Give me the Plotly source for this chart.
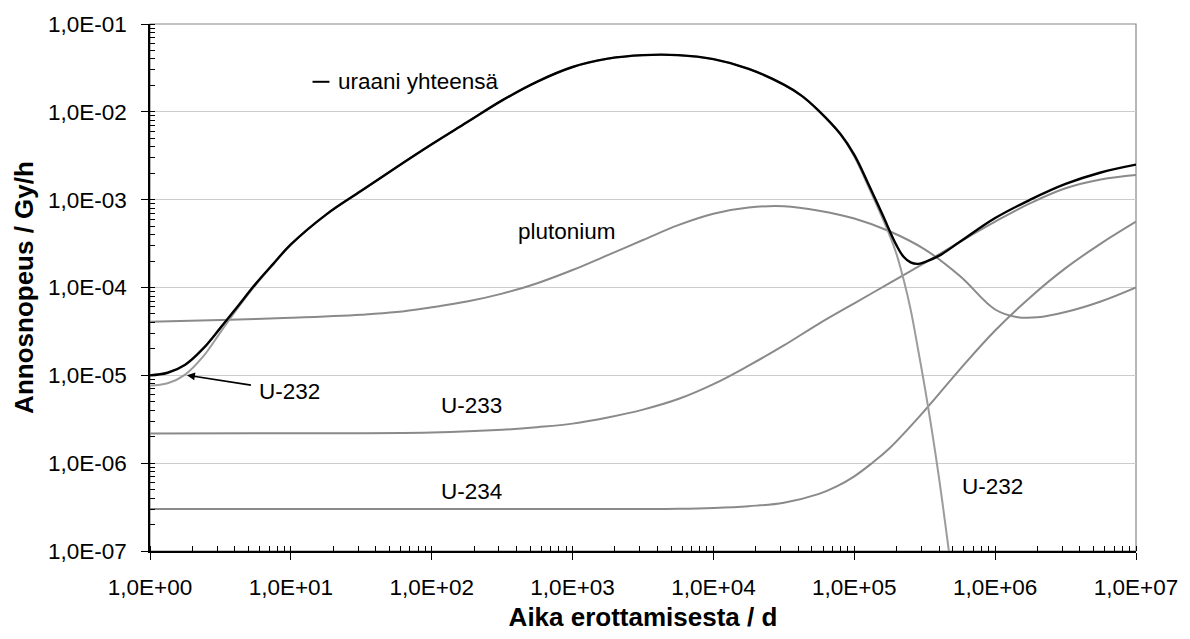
import plotly.graph_objects as go

# --- Dose rate from separated uranium / plutonium vs. time (log-log) ---

# Total uranium dose rate (Gy/h)
t_total = [1, 1.334, 1.778, 2.371, 3.162, 4.217, 5.623, 7.499, 10, 17.78, 31.62, 56.23,
           100, 177.8, 316.2, 562.3, 1e3, 1778, 3162, 5623, 1e4, 1.778e4, 3.162e4, 4.217e4,
           5.623e4, 7.943e4, 1e5, 1.259e5, 1.585e5, 1.995e5, 2.239e5, 2.512e5, 2.818e5,
           3.162e5, 3.981e5, 5.623e5, 1e6, 1.778e6, 3.162e6, 5.623e6, 1e7]
d_total = [1.00e-5, 1.07e-5, 1.32e-5, 2.00e-5, 3.47e-5, 6.17e-5, 1.10e-4, 1.86e-4, 3.09e-4,
           6.76e-4, 1.26e-3, 2.34e-3, 4.27e-3, 7.59e-3, 1.35e-2, 2.21e-2, 3.24e-2, 4.03e-2,
           4.42e-2, 4.42e-2, 3.98e-2, 3.09e-2, 2.04e-2, 1.53e-2, 1.02e-2, 5.62e-3, 3.24e-3,
           1.51e-3, 6.76e-4, 3.02e-4, 2.24e-4, 1.93e-4, 1.86e-4, 1.95e-4, 2.29e-4, 3.31e-4,
           6.17e-4, 1.00e-3, 1.51e-3, 2.04e-3, 2.51e-3]

# U-232
t_u232 = [1, 1.334, 1.778, 2.371, 3.162, 4.217, 5.623, 7.499, 10, 17.78, 31.62, 56.23,
          100, 177.8, 316.2, 562.3, 1e3, 1778, 3162, 5623, 1e4, 1.778e4, 3.162e4, 4.217e4,
          5.623e4, 7.943e4, 1e5, 1.259e5, 1.585e5, 1.778e5, 1.995e5, 2.239e5, 2.512e5,
          2.818e5, 3.162e5, 3.548e5, 3.981e5, 4.467e5, 5.012e5]
d_u232 = [7.67e-6, 8.13e-6, 1.02e-5, 1.62e-5, 3.09e-5, 5.89e-5, 1.07e-4, 1.84e-4, 3.07e-4,
          6.74e-4, 1.26e-3, 2.34e-3, 4.27e-3, 7.59e-3, 1.35e-2, 2.21e-2, 3.24e-2, 4.03e-2,
          4.42e-2, 4.42e-2, 3.98e-2, 3.09e-2, 2.04e-2, 1.53e-2, 1.02e-2, 5.60e-3, 3.09e-3,
          1.41e-3, 6.17e-4, 3.98e-4, 2.40e-4, 1.23e-4, 5.62e-5, 2.09e-5, 7.41e-6, 2.40e-6,
          7.08e-7, 1.82e-7, 4.47e-8]

# U-233
t_u233 = [1, 10, 100, 316.2, 562.3, 1e3, 1778, 3162, 5623, 1e4, 1.778e4, 3.162e4, 5.623e4,
          1e5, 1.778e5, 3.162e5, 5.623e5, 1e6, 1.778e6, 3.162e6, 5.623e6, 1e7]
d_u233 = [2.18e-6, 2.19e-6, 2.24e-6, 2.40e-6, 2.57e-6, 2.82e-6, 3.31e-6, 4.07e-6, 5.37e-6,
          7.94e-6, 1.29e-5, 2.19e-5, 3.89e-5, 6.61e-5, 1.12e-4, 1.91e-4, 3.31e-4, 5.62e-4,
          9.12e-4, 1.35e-3, 1.70e-3, 1.91e-3]

# U-234
t_u234 = [1, 10, 100, 1e3, 3162, 5623, 1e4, 1.778e4, 3.162e4, 5.623e4, 7.499e4, 1e5,
          1.334e5, 1.778e5, 3.162e5, 5.623e5, 1e6, 1.778e6, 3.162e6, 5.623e6, 1e7]
d_u234 = [3.0e-7, 3.0e-7, 3.0e-7, 3.0e-7, 3.0e-7, 3.02e-7, 3.09e-7, 3.24e-7, 3.55e-7,
          4.47e-7, 5.43e-7, 7.08e-7, 1.0e-6, 1.48e-6, 3.98e-6, 1.17e-5, 3.24e-5, 7.76e-5,
          1.66e-4, 3.16e-4, 5.62e-4]

# Plutonium
t_pu = [1, 3.162, 10, 31.62, 56.23, 100, 177.8, 316.2, 562.3, 1e3, 1778, 3162, 5623, 1e4,
        1.778e4, 3.162e4, 5.623e4, 1e5, 1.778e5, 3.162e5, 5.623e5, 1e6, 1.413e6, 1.995e6,
        3.162e6, 5.623e6, 1e7]
d_pu = [4.07e-5, 4.27e-5, 4.52e-5, 4.90e-5, 5.25e-5, 5.96e-5, 6.92e-5, 8.51e-5, 1.12e-4,
        1.58e-4, 2.34e-4, 3.47e-4, 5.13e-4, 6.92e-4, 8.13e-4, 8.41e-4, 7.50e-4, 6.10e-4,
        4.37e-4, 2.72e-4, 1.35e-4, 5.62e-5, 4.62e-5, 4.57e-5, 5.25e-5, 6.92e-5, 1.0e-4]

# Axis ticks (decades) and their labels
x_exponents = [0, 1, 2, 3, 4, 5, 6, 7]
y_exponents = [-7, -6, -5, -4, -3, -2, -1]
x_tick_labels = ["1,0E+00", "1,0E+01", "1,0E+02", "1,0E+03", "1,0E+04", "1,0E+05",
                 "1,0E+06", "1,0E+07"]
y_tick_labels = ["1,0E-07", "1,0E-06", "1,0E-05", "1,0E-04", "1,0E-03", "1,0E-02",
                 "1,0E-01"]

FONT = "Liberation Sans, Arial, sans-serif"
GRAY = "#8a8a8a"
LIGHT_GRAY = "#9c9c9c"

fig = go.Figure()

def add_line(t, d, color, width, name):
    fig.add_trace(go.Scatter(
        x=t, y=d, mode="lines", name=name,
        line=dict(color=color, width=width, shape="spline", smoothing=1.1),
        hoverinfo="skip",
    ))

add_line(t_u234, d_u234, GRAY, 2.0, "U-234")
add_line(t_u233, d_u233, GRAY, 2.0, "U-233")
add_line(t_pu, d_pu, GRAY, 2.0, "plutonium")
add_line(t_u232, d_u232, LIGHT_GRAY, 2.0, "U-232")
add_line(t_total, d_total, "black", 2.4, "uraani yhteensä")

x_major = [10.0 ** e for e in x_exponents]
y_major = [10.0 ** e for e in y_exponents]
x_minor = [k * 10.0 ** e for e in x_exponents[:-1] for k in range(1, 10)] + [x_major[-1]]
y_minor = [k * 10.0 ** e for e in y_exponents[:-1] for k in range(1, 10)] + [y_major[-1]]

fig.update_xaxes(
    type="log", range=[x_exponents[0], x_exponents[-1]],
    tickvals=x_major, ticktext=x_tick_labels,
    ticks="outside", ticklen=7, tickwidth=1.2, tickcolor="black",
    minor=dict(tickvals=x_minor, ticks="inside", ticklen=5, tickwidth=1, tickcolor="black",
               showgrid=False),
    showline=True, linecolor="black", linewidth=1.5,
    showgrid=False, zeroline=False,
    tickfont=dict(family=FONT, size=22.5, color="black"),
    ticklabelstandoff=8,
    title=dict(text="<b>Aika erottamisesta / d</b>",
               font=dict(family=FONT, size=26, color="black"), standoff=9),
)
fig.update_yaxes(
    type="log", range=[y_exponents[0], y_exponents[-1]],
    tickvals=y_major, ticktext=y_tick_labels,
    ticks="outside", ticklen=7, tickwidth=1.2, tickcolor="black",
    minor=dict(tickvals=y_minor, ticks="inside", ticklen=5, tickwidth=1, tickcolor="black",
               showgrid=False),
    showline=True, linecolor="black", linewidth=1.5,
    showgrid=True, gridcolor="#cccccc", gridwidth=1, zeroline=False,
    tickfont=dict(family=FONT, size=22.5, color="black"),
    ticklabelstandoff=10,
    title=dict(text="<b>Annosnopeus / Gy/h</b>",
               font=dict(family=FONT, size=26, color="black"), standoff=7),
)

L, R, T, B = 150, 51, 18, 83
W, H = 1190, 639
plot_w, plot_h = W - L - R, H - T - B

def px(xpix):
    return (xpix - L) / plot_w

def py(ypix):
    return (H - B - ypix) / plot_h

# plot frame (top and right edges in gray)
fig.add_shape(type="rect", xref="paper", yref="paper", x0=0, y0=0, x1=1, y1=1,
              line=dict(color="#888888", width=1.2), layer="below")
# short key line before the total-uranium label
fig.add_shape(type="line", xref="paper", yref="paper",
              x0=px(313), x1=px(330), y0=py(77), y1=py(77),
              line=dict(color="black", width=2))

label_font = dict(family=FONT, size=22.5, color="black")
labels = [
    ("uraani yhteensä", 1.323, -1.65),
    ("plutonium", 2.597, -3.36),
    ("U-233", 2.052, -5.345),
    ("U-234", 2.052, -6.325),
    ("U-232", 5.754, -6.26),
]
for text, lx, ly in labels:
    fig.add_annotation(text=text, x=lx, y=ly, xref="x", yref="y", showarrow=False,
                       xanchor="left", yanchor="middle", font=label_font)

fig.add_annotation(text="U-232", x=0.262, y=-4.998, xref="x", yref="y",
                   showarrow=True, ax=103, ay=16, arrowhead=2, arrowsize=1,
                   arrowwidth=1.6, arrowcolor="black", borderpad=8, font=label_font)

fig.update_layout(
    width=W, height=H,
    margin=dict(l=L, r=R, t=T, b=B),
    paper_bgcolor="white", plot_bgcolor="white",
    showlegend=False,
    font=dict(family=FONT, color="black"),
)

fig.write_html("out.html")
